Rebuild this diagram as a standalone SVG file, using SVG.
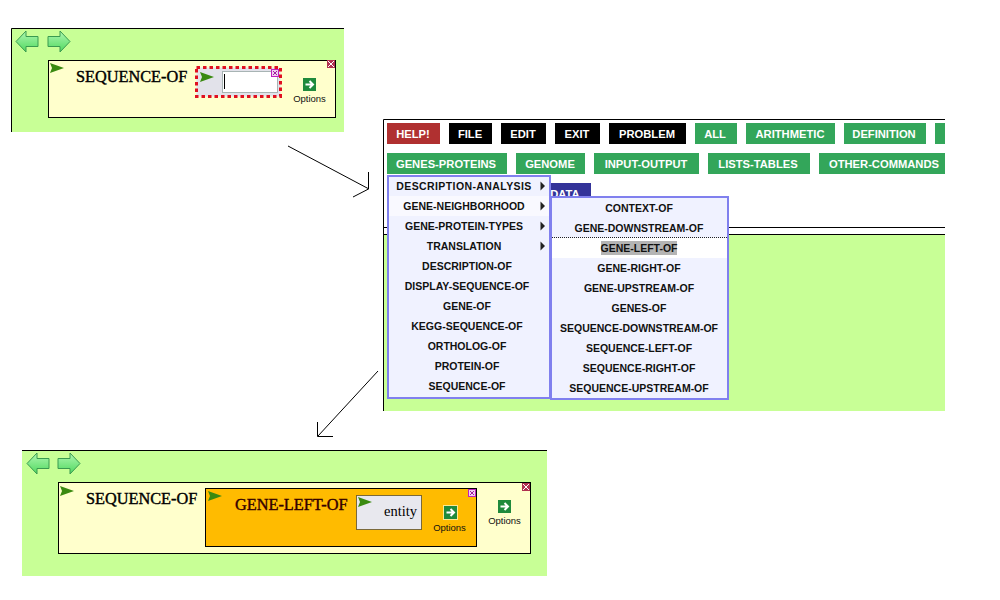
<svg xmlns="http://www.w3.org/2000/svg" width="1000" height="600" viewBox="0 0 1000 600">
<style>
.panel{fill:#c8ff96}
.line{stroke:#000;stroke-width:1;fill:none}
.box{fill:#ffffcc;stroke:#000;stroke-width:1}
.serif{font-family:"Liberation Serif","Times New Roman",serif;font-size:16.3px;fill:#000;stroke:#000;stroke-width:.4}
.opt{font-family:"Liberation Sans",Arial,sans-serif;font-size:9.5px;fill:#111;text-anchor:middle}
.btn{font-family:"Liberation Sans",Arial,sans-serif;font-size:11.2px;font-weight:bold;fill:#fff;text-anchor:middle}
.g{fill:#33a65a}.k{fill:#000}.r{fill:#b03030}
.menu{fill:#f0f2ff;stroke:#8080ee;stroke-width:2}
.mi{font-family:"Liberation Sans",Arial,sans-serif;font-size:10.5px;font-weight:bold;fill:#111;text-anchor:middle}
.conn{stroke:#000;stroke-width:1;fill:none}
</style>
<defs>
<linearGradient id="navg" x1="0" y1="0" x2="0" y2="1"><stop offset="0" stop-color="#b0f8b0"/><stop offset="1" stop-color="#50d860"/></linearGradient>
<polygon id="navL" points="0,10.5 10,0 10,5.5 22,5.5 22,15.5 10,15.5 10,21" fill="url(#navg)" stroke="#3a9a50"/>
<polygon id="navR" points="23,10.5 13,0 13,5.5 1,5.5 1,15.500 13,15.500 13,21" fill="url(#navg)" stroke="#3a9a50"/>
<polygon id="dart" points="0,0 14,5 0,10 2,5" fill="#3a8a10"/>
<g id="optIcon"><rect width="13" height="13" fill="#1f8a3c"/><path d="M2.500 6.500H9.500M6.500 3L10 6.500L6.500 10" stroke="#fff" stroke-width="2" fill="none"/></g>
<g id="closeR"><rect width="8" height="8" fill="#b03050"/><path d="M1 1L7 7M7 1L1 7" stroke="#fff"/></g>
<g id="closeP"><rect x=".5" y=".5" width="7" height="7" fill="#f0d0f0" stroke="#c020c0"/><path d="M2 2L6 6M6 2L2 6" stroke="#a020a0"/></g>
<polygon id="tri" points="0,0 4.500,4.500 0,9" fill="#222"/>
</defs>
<rect width="1000" height="600" fill="#fff"/>

<g id="panel-top">
<rect class="panel" x="11" y="28" width="333" height="104"/>
<path class="line" d="M344 28.500H11.500V132"/>
<use href="#navL" x="16" y="31"/><use href="#navR" x="47" y="31"/>
<rect class="box" x="48.500" y="60.500" width="287" height="57"/>
<use href="#dart" x="50" y="63"/>
<text class="serif" x="76" y="82">SEQUENCE-OF</text>
<use href="#closeR" x="327" y="60"/>
<use href="#optIcon" x="303" y="78"/>
<text class="opt" x="309.500" y="102">Options</text>
</g>
<g id="slot-empty">
<rect x="196.500" y="67.500" width="84" height="29" fill="#e2e2ea" stroke="#e01020" stroke-width="3" stroke-dasharray="3.500 3"/>
<use href="#dart" x="200" y="72"/>
<rect x="222.500" y="71.500" width="55" height="21" fill="#fff" stroke="#a8b4b4"/>
<path d="M224.500 74V89" stroke="#000"/>
<use href="#closeP" x="271" y="69"/>
</g>

<g id="app-window">
<rect class="panel" x="384" y="235" width="561" height="176"/>
<path class="line" d="M945 119.500H383.500V411"/>
<path class="line" d="M384 227.500H945M384 234.500H945"/>
</g>
<g id="toolbar">
<rect class="r" x="387" y="123" width="53" height="21"/><text class="btn" x="413" y="138">HELP!</text>
<rect class="k" x="449" y="123" width="43" height="21"/><text class="btn" x="470" y="138">FILE</text>
<rect class="k" x="501" y="123" width="45" height="21"/><text class="btn" x="523" y="138">EDIT</text>
<rect class="k" x="555" y="123" width="45" height="21"/><text class="btn" x="577" y="138">EXIT</text>
<rect class="k" x="609" y="123" width="77" height="21"/><text class="btn" x="647" y="138">PROBLEM</text>
<rect class="g" x="695" y="123" width="42" height="21"/><text class="btn" x="715" y="138">ALL</text>
<rect class="g" x="746" y="123" width="89" height="21"/><text class="btn" x="790" y="138">ARITHMETIC</text>
<rect class="g" x="844" y="123" width="82" height="21"/><text class="btn" x="884" y="138">DEFINITION</text>
<rect class="g" x="935" y="123" width="10" height="21"/>
<rect class="g" x="387" y="153" width="120" height="21"/><text class="btn" x="446" y="168">GENES-PROTEINS</text>
<rect class="g" x="516" y="153" width="69" height="21"/><text class="btn" x="550" y="168">GENOME</text>
<rect class="g" x="594" y="153" width="105" height="21"/><text class="btn" x="646" y="168">INPUT-OUTPUT</text>
<rect class="g" x="708" y="153" width="102" height="21"/><text class="btn" x="758" y="168">LISTS-TABLES</text>
<rect class="g" x="819" y="153" width="126" height="21"/><text class="btn" x="884" y="168">OTHER-COMMANDS</text>
<rect x="540" y="183" width="51" height="16" fill="#333399"/><text class="btn" x="565" y="198">DATA</text>
</g>

<g id="menu-main">
<rect class="menu" x="388" y="176" width="162" height="222"/>
<rect x="389" y="196" width="160" height="20" fill="#f9f9ff"/>
<text class="mi" x="464" y="190" style="letter-spacing:.4px">DESCRIPTION-ANALYSIS</text>
<text class="mi" x="464" y="210">GENE-NEIGHBORHOOD</text>
<text class="mi" x="464" y="230">GENE-PROTEIN-TYPES</text>
<text class="mi" x="464" y="250">TRANSLATION</text>
<text class="mi" x="467" y="270">DESCRIPTION-OF</text>
<text class="mi" x="467" y="290">DISPLAY-SEQUENCE-OF</text>
<text class="mi" x="467" y="310">GENE-OF</text>
<text class="mi" x="467" y="330">KEGG-SEQUENCE-OF</text>
<text class="mi" x="467" y="350">ORTHOLOG-OF</text>
<text class="mi" x="467" y="370">PROTEIN-OF</text>
<text class="mi" x="467" y="390">SEQUENCE-OF</text>
<use href="#tri" x="540.500" y="181.500"/><use href="#tri" x="540.500" y="201.500"/><use href="#tri" x="540.500" y="221.500"/><use href="#tri" x="540.500" y="241.500"/>
</g>
<g id="menu-sub">
<rect class="menu" x="551" y="197" width="177" height="202"/>
<rect x="552" y="238" width="175" height="20" fill="#fff"/>
<path d="M552 237.500H727" stroke="#222" stroke-dasharray="1 1"/>
<rect x="601" y="241" width="76" height="14" fill="#b4b4b4"/>
<text class="mi" x="639" y="212">CONTEXT-OF</text>
<text class="mi" x="639" y="232">GENE-DOWNSTREAM-OF</text>
<text class="mi" x="639" y="252">GENE-LEFT-OF</text>
<text class="mi" x="639" y="272">GENE-RIGHT-OF</text>
<text class="mi" x="639" y="292">GENE-UPSTREAM-OF</text>
<text class="mi" x="639" y="312">GENES-OF</text>
<text class="mi" x="639" y="332">SEQUENCE-DOWNSTREAM-OF</text>
<text class="mi" x="639" y="352">SEQUENCE-LEFT-OF</text>
<text class="mi" x="639" y="372">SEQUENCE-RIGHT-OF</text>
<text class="mi" x="639" y="392">SEQUENCE-UPSTREAM-OF</text>
</g>

<g id="panel-bottom">
<rect class="panel" x="22" y="450" width="525" height="126"/>
<path class="line" d="M22 450.500H547"/>
<use href="#navL" x="27" y="453"/><use href="#navR" x="57" y="453"/>
<rect class="box" x="58.500" y="482.500" width="472" height="71"/>
<use href="#dart" x="60" y="486"/>
<text class="serif" x="86" y="504">SEQUENCE-OF</text>
<use href="#closeR" x="522" y="483"/>
<use href="#optIcon" x="498" y="500"/>
<text class="opt" x="504.500" y="524">Options</text>
</g>
<g id="gene-left-of">
<rect x="205.500" y="488.500" width="271" height="58" fill="#ffbb00" stroke="#000"/>
<use href="#dart" x="208" y="491"/>
<text class="serif" x="235" y="510" style="fill:#300;stroke:#300">GENE-LEFT-OF</text>
<use href="#closeP" x="468" y="489"/>
<rect x="443" y="505" width="15" height="15" fill="#ffe890"/>
<use href="#optIcon" x="444" y="506"/>
<text class="opt" x="449.500" y="531">Options</text>
</g>
<g id="entity">
<rect x="356.500" y="495.500" width="65" height="34" fill="#e8e8ee" stroke="#000" stroke-dasharray="1 1"/>
<use href="#dart" x="358" y="497"/>
<text class="serif" x="384" y="516" style="font-size:14.500px;stroke:none">entity</text>
</g>

<g id="connectors">
<path class="conn" d="M288 146L369 189M368.500 172V189L353 197"/>
<path class="conn" d="M378 371L318 436M317.500 422V436.500H333"/>
</g>
</svg>
